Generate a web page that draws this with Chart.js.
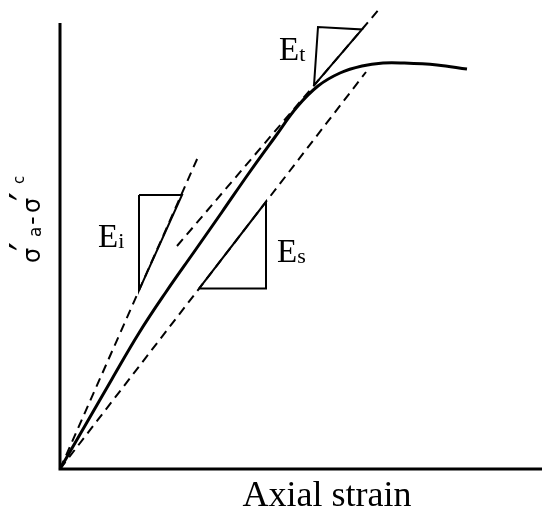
<!DOCTYPE html>
<html>
<head>
<meta charset="utf-8">
<script src="https://cdn.jsdelivr.net/npm/chart.js@4/dist/chart.umd.min.js"></script>
<style>
  html, body { margin: 0; padding: 0; background: #fff; }
  #wrap { width: 542px; height: 516px; }
</style>
</head>
<body>
<div id="wrap"><canvas id="myChart"></canvas></div>
<script>
// stress-strain curve (arbitrary units)
const strain = [0, 0.65, 1.3, 1.975, 2.65, 3.35, 4.05, 4.725, 5.375, 5.925, 6.45, 7.0, 7.55, 8.075, 8.575, 9.425, 10.175]
const stress = [0, 1.125, 2.25, 3.4, 4.425, 5.425, 6.425, 7.4, 8.3, 9.05, 9.575, 9.9, 10.075, 10.15, 10.15, 10.1, 10.0]

// dashed modulus lines: [x0, y0, x1, y1]
const initialTangent = [0, 0, 3.45, 7.8]
const secant = [0, 0, 7.65, 9.925]
const tangent = [2.925, 5.575, 8.025, 11.55]

// slope triangles: x and y of corners
const triI_x = [1.975, 3.05, 1.975]
const triI_y = [6.85, 6.85, 4.465]
const triS_x = [3.475, 5.15, 5.15]
const triS_y = [4.51, 4.51, 6.68]
const triT_x = [6.35, 6.45, 7.55]
const triT_y = [9.59, 11.05, 10.99]

// labels: main letter, subscript, x, y (baseline)
const labels = [
    ['E', 'i', 0.95, 5.55],
    ['E', 's', 5.425, 5.175],
    ['E', 't', 5.475, 10.225]
]

const toPoints = (xs, ys) => xs.map((x, i) => ({ x: x, y: ys[i] }))
const seg = (s) => [{ x: s[0], y: s[1] }, { x: s[2], y: s[3] }]
const closed = (xs, ys) => {
    const p = toPoints(xs, ys)
    p.push(p[0])
    return p
}

const dashed = (data) => ({
    data: data,
    borderColor: '#000',
    borderWidth: 2,
    borderDash: [9, 6],
    pointRadius: 0,
    tension: 0,
    fill: false,
    clip: false
})
const triangle = (data) => ({
    data: data,
    borderColor: '#000',
    borderWidth: 2,
    pointRadius: 0,
    tension: 0,
    fill: false,
    clip: false
})

const decorations = {
    id: 'decorations',
    beforeDatasetsDraw(chart) {
        const { ctx, chartArea } = chart
        ctx.save()
        ctx.strokeStyle = '#000'
        ctx.lineWidth = 3
        ctx.beginPath()
        ctx.moveTo(chartArea.left, chartArea.top)
        ctx.lineTo(chartArea.left, chartArea.bottom)
        ctx.lineTo(chart.width, chartArea.bottom)
        ctx.stroke()
        ctx.restore()
    },
    afterDraw(chart) {
        const { ctx, scales } = chart
        ctx.save()
        ctx.fillStyle = '#000'
        ctx.textBaseline = 'alphabetic'

        // x title
        ctx.font = '36px "Liberation Serif"'
        ctx.textAlign = 'center'
        ctx.fillText('Axial strain', 327, 506)

        // modulus labels
        ctx.textAlign = 'left'
        for (const l of labels) {
            const px = scales.x.getPixelForValue(l[2])
            const py = scales.y.getPixelForValue(l[3])
            ctx.font = '33px "Liberation Serif"'
            ctx.fillText(l[0], px, py)
            const w = ctx.measureText(l[0]).width
            ctx.font = '22px "Liberation Serif"'
            ctx.fillText(l[1], px + w, py + 1)
        }

        // y title, rotated
        ctx.translate(40, 263)
        ctx.rotate(-Math.PI / 2)
        const big = '24px "DejaVu Sans"'
        const prime = '40px "DejaVu Sans"'
        ctx.font = big
        ctx.fillText('σ', 0, 0)
        ctx.font = prime
        ctx.fillText('′', 12, -1)
        ctx.font = '17px "DejaVu Sans"'
        ctx.fillText('a', 26, 1)
        ctx.font = big
        ctx.fillText('-', 38, 0)
        ctx.fillText('σ', 50, 0)
        ctx.font = prime
        ctx.fillText('′', 62, -1)
        ctx.font = '15px "DejaVu Sans"'
        ctx.fillText('c', 79, -16)
        ctx.restore()
    }
}

const ctx = document.getElementById('myChart').getContext('2d')
const chart = new Chart(ctx, {
    type: 'line',
    data: {
        datasets: [
            {
                data: toPoints(strain, stress),
                borderColor: '#000',
                borderWidth: 3,
                pointRadius: 0,
                tension: 0.4,
                fill: false,
                clip: false
            },
            dashed(seg(initialTangent)),
            dashed(seg(secant)),
            dashed(seg(tangent)),
            triangle(closed(triI_x, triI_y)),
            triangle(closed(triS_x, triS_y)),
            triangle(closed(triT_x, triT_y))
        ]
    },
    options: {
        responsive: true,
        maintainAspectRatio: false,
        animation: false,
        layout: { padding: { left: 60, top: 23, right: 1, bottom: 47 } },
        scales: {
            x: { type: 'linear', display: false, min: 0, max: 12.025 },
            y: { type: 'linear', display: false, min: 0, max: 11.15 }
        },
        plugins: {
            legend: { display: false },
            tooltip: { enabled: false }
        }
    },
    plugins: [decorations]
})
</script>
</body>
</html>
